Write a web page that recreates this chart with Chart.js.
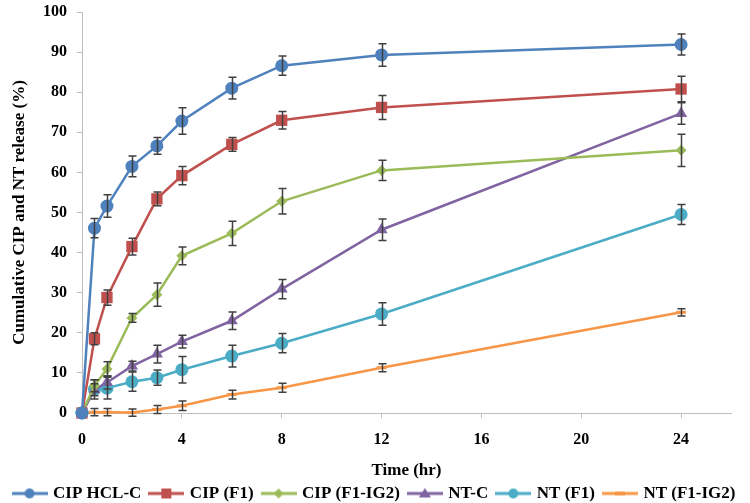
<!DOCTYPE html>
<html>
<head>
<meta charset="utf-8">
<script src="https://cdn.jsdelivr.net/npm/chart.js@4.4.1/dist/chart.umd.min.js"></script>
<style>
  html, body { margin: 0; padding: 0; background: #fff; }
  #wrap { width: 750px; height: 503px; }
</style>
</head>
<body>
<div id="wrap"><canvas id="release" width="750" height="503"></canvas></div>
<script>
// time points (hr)
const times = [0, 0.5, 1, 2, 3, 4, 6, 8, 12, 24];
const xTicks = [0, 4, 8, 12, 16, 20, 24];
const yTicks = [0, 10, 20, 30, 40, 50, 60, 70, 80, 90, 100];

// cumulative release (%) and error (±)
const cipHclC = [0, 46.1, 51.6, 61.5, 66.6, 72.8, 81.0, 86.6, 89.3, 91.9];
const cipHclCErr = [0, 2.4, 2.8, 2.6, 2.1, 3.3, 2.7, 2.4, 2.8, 2.6];
const cipF1 = [0, 18.5, 28.8, 41.5, 53.4, 59.2, 67.0, 73.0, 76.2, 80.8];
const cipF1Err = [0, 1.5, 1.9, 2.1, 1.7, 2.3, 1.7, 2.2, 3.0, 3.2];
const cipF1Ig2 = [0, 6.8, 11.0, 23.7, 29.5, 39.2, 44.8, 52.8, 60.5, 65.5];
const cipF1Ig2Err = [0, 1.5, 1.8, 1.1, 2.9, 2.2, 3.0, 3.2, 2.5, 4.0];
const ntC = [0, 5.8, 7.6, 11.7, 14.7, 17.8, 23.0, 30.9, 45.7, 74.7];
const ntCErr = [0, 1.5, 1.6, 1.2, 2.2, 1.6, 2.2, 2.4, 2.7, 2.7];
const ntF1 = [0, 5.9, 6.2, 7.8, 8.8, 10.8, 14.2, 17.4, 24.7, 49.5];
const ntF1Err = [0, 2.4, 2.7, 2.4, 1.9, 3.3, 2.7, 2.4, 2.8, 2.5];
const ntF1Ig2 = [0, 0.2, 0.2, 0.1, 0.9, 1.8, 4.6, 6.3, 11.3, 25.1];
const ntF1Ig2Err = [0, 0.9, 0.9, 0.9, 1.0, 1.2, 1.1, 1.1, 1.0, 0.9];

const FONT = "'Liberation Serif', 'Times New Roman', serif";

const series = [
  { label: "CIP HCL-C", values: cipHclC, errors: cipHclCErr, color: "#4F81BD", style: "circle", radius: 6.5 },
  { label: "CIP (F1)", values: cipF1, errors: cipF1Err, color: "#C0504D", style: "rect", radius: 8 },
  { label: "CIP (F1-IG2)", values: cipF1Ig2, errors: cipF1Ig2Err, color: "#9BBB59", style: "rectRot", radius: 5.5 },
  { label: "NT-C", values: ntC, errors: ntCErr, color: "#8064A2", style: "triangle", radius: 7 },
  { label: "NT (F1)", values: ntF1, errors: ntF1Err, color: "#4BACC6", style: "circle", radius: 6.5 },
  { label: "NT (F1-IG2)", values: ntF1Ig2, errors: ntF1Ig2Err, color: "#F79646", style: "line", radius: 5 }
];

// small line+marker image for the legend (a bit wider than the legend box)
function legendIcon(s) {
  const c = document.createElement("canvas");
  c.width = 36; c.height = 14;
  const g = c.getContext("2d");
  const m = 18;
  g.strokeStyle = s.color;
  g.fillStyle = s.color;
  g.lineWidth = 3;
  g.beginPath(); g.moveTo(0, 7); g.lineTo(36, 7); g.stroke();
  if (s.style === "circle") {
    g.beginPath(); g.arc(m, 7, 5, 0, Math.PI * 2); g.fill();
  } else if (s.style === "rect") {
    g.fillRect(m - 5, 2, 10, 10);
  } else if (s.style === "rectRot") {
    g.beginPath(); g.moveTo(m, 2); g.lineTo(m + 5, 7); g.lineTo(m, 12); g.lineTo(m - 5, 7); g.closePath(); g.fill();
  } else if (s.style === "triangle") {
    g.beginPath(); g.moveTo(m, 1.5); g.lineTo(m + 6, 11); g.lineTo(m - 6, 11); g.closePath(); g.fill();
  } else {
    g.lineWidth = 4;
    g.beginPath(); g.moveTo(m - 5, 7); g.lineTo(m + 5, 7); g.stroke();
  }
  return c;
}

// Error bars
const errorBars = {
  id: "errorBars",
  afterDatasetsDraw(chart) {
    const { ctx, scales: { x, y } } = chart;
    ctx.save();
    ctx.strokeStyle = "#404040";
    ctx.lineWidth = 1.5;
    chart.data.datasets.forEach(ds => {
      ds.data.forEach((p, j) => {
        const e = ds.errors[j];
        if (!e) return;
        const px = Math.round(x.getPixelForValue(p.x)) + 0.5;
        const top = y.getPixelForValue(p.y + e);
        const bot = y.getPixelForValue(p.y - e);
        ctx.beginPath();
        ctx.moveTo(px, top); ctx.lineTo(px, bot);
        ctx.moveTo(px - 4, top); ctx.lineTo(px + 4, top);
        ctx.moveTo(px - 4, bot); ctx.lineTo(px + 4, bot);
        ctx.stroke();
      });
    });
    ctx.restore();
  }
};

const datasets = series.map(s => ({
  label: s.label,
  data: times.map((t, i) => ({ x: t, y: s.values[i] })),
  errors: s.errors,
  borderColor: s.color,
  backgroundColor: s.color,
  borderWidth: 2.5,
  pointStyle: s.style,
  pointRadius: s.radius,
  pointBorderWidth: s.style === "line" ? 3 : 0,
  pointBackgroundColor: s.color,
  pointBorderColor: s.color,
  tension: 0,
  clip: false,
  legendIcon: legendIcon(s)
}));

new Chart(document.getElementById("release"), {
  type: "line",
  data: { datasets },
  options: {
    responsive: false,
    animation: false,
    devicePixelRatio: 1,
    layout: { padding: { top: 12, right: 0, bottom: -9, left: 0 } },
    plugins: {
      tooltip: { enabled: false },
      legend: {
        position: "bottom",
        labels: {
          usePointStyle: true,
          pointStyleWidth: 30,
          padding: 10,
          color: "#000",
          font: { family: FONT, size: 17, weight: "bold" },
          generateLabels: chart => chart.data.datasets.map((ds, i) => ({
            text: ds.label,
            pointStyle: ds.legendIcon,
            fillStyle: ds.borderColor,
            strokeStyle: ds.borderColor,
            lineWidth: 0,
            fontColor: "#000",
            datasetIndex: i
          }))
        }
      }
    },
    scales: {
      x: {
        type: "linear",
        min: 0,
        max: 26,
        afterBuildTicks: scale => { scale.ticks = xTicks.map(v => ({ value: v })); },
        afterFit: scale => {
          scale.height = 62;
          scale.paddingLeft = 0;
          scale.paddingRight = 19;
        },
        grid: { drawOnChartArea: false, drawTicks: true, tickLength: 5, color: "#BFBFBF" },
        border: { color: "#BFBFBF", width: 1 },
        ticks: { color: "#000", padding: 12, maxRotation: 0, font: { family: FONT, size: 16, weight: "bold" } },
        title: {
          display: true,
          text: "Time (hr)",
          color: "#000",
          padding: { top: 0, bottom: -6 },
          font: { family: FONT, size: 17, weight: "bold" }
        }
      },
      y: {
        min: 0,
        max: 100,
        afterBuildTicks: scale => { scale.ticks = yTicks.map(v => ({ value: v })); },
        afterFit: scale => {
          scale.width = 82;
          scale.paddingTop = 0;
          scale.paddingBottom = 0;
        },
        grid: { drawOnChartArea: false, drawTicks: true, tickLength: 5, color: "#BFBFBF" },
        border: { color: "#BFBFBF", width: 1 },
        ticks: { color: "#000", padding: 10, font: { family: FONT, size: 16, weight: "bold" } },
        title: {
          display: true,
          text: "Cumulative CIP and NT release (%)",
          color: "#000",
          padding: { top: 9, bottom: 0 },
          font: { family: FONT, size: 17, weight: "bold" }
        }
      }
    }
  },
  plugins: [errorBars]
});
</script>
</body>
</html>
